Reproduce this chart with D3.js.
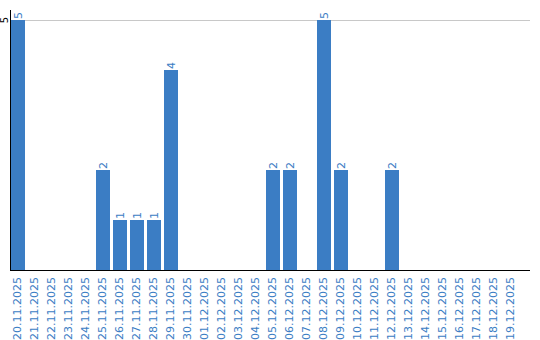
<!DOCTYPE html>
<html>
<head>
<meta charset="utf-8">
<script src="https://cdn.jsdelivr.net/npm/d3@7"></script>
<style>
  body { margin: 0; background: #fff; }
  svg { display: block; font-family: "DejaVu Sans", Verdana, sans-serif; }
</style>
</head>
<body>
<svg id="chart" width="540" height="340"></svg>
<script>
const dates = ["20.11.2025","21.11.2025","22.11.2025","23.11.2025","24.11.2025","25.11.2025","26.11.2025","27.11.2025","28.11.2025","29.11.2025","30.11.2025","01.12.2025","02.12.2025","03.12.2025","04.12.2025","05.12.2025","06.12.2025","07.12.2025","08.12.2025","09.12.2025","10.12.2025","11.12.2025","12.12.2025","13.12.2025","14.12.2025","15.12.2025","16.12.2025","17.12.2025","18.12.2025","19.12.2025"];
const counts = [5,0,0,0,0,2,1,1,1,4,0,0,0,0,0,2,2,0,5,2,0,0,2,0,0,0,0,0,0,0];
const yTicks = [5];

const svg = d3.select('#chart');
const mLeft = 11, mRight = 530, mTop = 20, mBottom = 270;
const blue = '#3b7dc4';

// 17px per day, 14px bars
const x = d3.scaleBand().domain(dates).range([mLeft, mLeft + 17 * dates.length - 3]).paddingInner(3 / 17).paddingOuter(0);
const y = d3.scaleLinear().domain([0, d3.max(counts)]).range([mBottom, mTop]);

// gridline
svg.selectAll('.grid').data(yTicks).enter().append('line')
  .attr('x1', mLeft).attr('x2', mRight)
  .attr('y1', d => y(d) + 0.5).attr('y2', d => y(d) + 0.5)
  .attr('stroke', '#c8c8c8');

const data = dates.map((d, i) => ({ date: d, value: counts[i] }));

svg.selectAll('.bar').data(data.filter(d => d.value > 0)).enter().append('rect')
  .attr('x', d => x(d.date))
  .attr('y', d => y(d.value))
  .attr('width', x.bandwidth())
  .attr('height', d => mBottom - y(d.value))
  .attr('fill', blue);

svg.selectAll('.val').data(data.filter(d => d.value > 0)).enter().append('text')
  .attr('transform', d => `translate(${x(d.date) + x.bandwidth() / 2 + 4},${y(d.value) - 1}) rotate(-90)`)
  .style('font-size', '11px')
  .style('fill', blue)
  .text(d => d.value);

// axes lines
svg.append('line').attr('x1', mLeft - 0.5).attr('x2', mLeft - 0.5).attr('y1', 10).attr('y2', mBottom + 1)
  .attr('stroke', '#000');
svg.append('line').attr('x1', mLeft - 1).attr('x2', mRight).attr('y1', mBottom + 0.5).attr('y2', mBottom + 0.5)
  .attr('stroke', '#000');

svg.selectAll('.ytick').data(yTicks).enter().append('text')
  .attr('transform', d => `translate(7.5,${y(d)}) rotate(-90)`)
  .attr('text-anchor', 'middle')
  .style('font-size', '10px')
  .style('fill', '#000')
  .text(d => d);

svg.selectAll('.xlab').data(dates).enter().append('text')
  .attr('transform', d => `translate(${x(d) + x.bandwidth() / 2 + 2.5},${mBottom + 7}) rotate(-90)`)
  .attr('text-anchor', 'end')
  .style('font-size', '11px')
  .style('fill', blue)
  .text(d => d);
</script>
</body>
</html>
